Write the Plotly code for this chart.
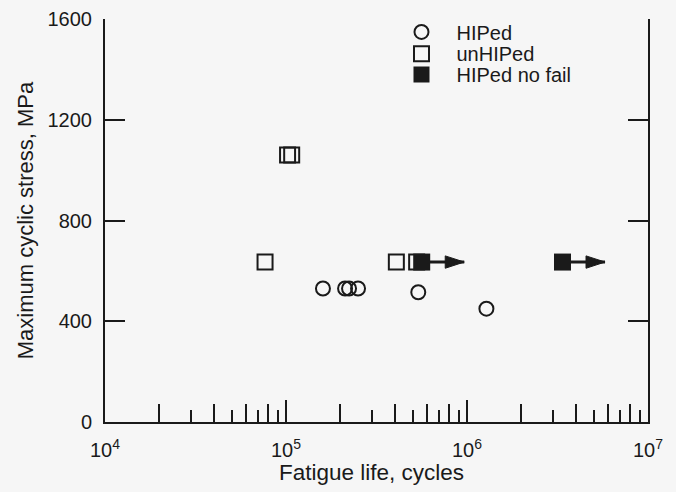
import plotly.graph_objects as go

# ---- data ----
hiped_life = [1.60e5, 2.12e5, 2.23e5, 2.50e5, 5.38e5, 1.28e6]
hiped_stress = [530, 530, 530, 530, 515, 450]

unhiped_life = [7.66e4, 1.02e5, 1.075e5, 4.07e5, 5.27e5]
unhiped_stress = [635, 1060, 1060, 635, 635]

nofail_life = [5.62e5, 3.37e6]
nofail_stress = [635, 635]

x_decades = [1e4, 1e5, 1e6, 1e7]
x_ticktext = ["10<sup>4</sup>", "10<sup>5</sup>", "10<sup>6</sup>", "10<sup>7</sup>"]
x_minor_short = [m * d for d in [1e4, 1e5, 1e6] for m in (3, 5, 7, 9)]
x_minor_long = [m * d for d in [1e4, 1e5, 1e6] for m in (2, 4, 6, 8)]
y_ticks = [0, 400, 800, 1200, 1600]

x_title = "Fatigue life, cycles"
y_title = "Maximum cyclic stress, MPa"

# ---- style ----
INK = "#1a1a1a"
BG = "#f6f6f6"
FONT = "Liberation Sans, Arial, Helvetica, sans-serif"
ARROW_DEC = 0.235  # arrow tip offset in decades (runout indicator)

fig = go.Figure()

fig.add_trace(go.Scatter(
    x=hiped_life, y=hiped_stress, mode="markers", name="HIPed", legend="legend",
    marker=dict(symbol="circle-open", size=14, color=INK, line=dict(width=2, color=INK)),
))
fig.add_trace(go.Scatter(
    x=unhiped_life, y=unhiped_stress, mode="markers", name="unHIPed", legend="legend2",
    marker=dict(symbol="square-open", size=15, color=INK, line=dict(width=2, color=INK)),
))

# runout arrows: shaft lines + arrow heads
shaft_x, shaft_y, tip_x, tip_y = [], [], [], []
for xv, yv in zip(nofail_life, nofail_stress):
    tip = xv * 10 ** ARROW_DEC
    shaft_x += [xv, tip, None]
    shaft_y += [yv, yv, None]
    tip_x.append(tip)
    tip_y.append(yv)
fig.add_trace(go.Scatter(
    x=shaft_x, y=shaft_y, mode="lines", showlegend=False, hoverinfo="skip",
    line=dict(color=INK, width=3),
))
fig.add_trace(go.Scatter(
    x=tip_x, y=tip_y, mode="markers", showlegend=False, hoverinfo="skip",
    marker=dict(symbol="arrow", size=20, color=INK, angle=90, opacity=1,
                line=dict(width=1, color=INK)),
))

fig.add_trace(go.Scatter(
    x=nofail_life, y=nofail_stress, mode="markers", name="HIPed no fail", legend="legend3",
    marker=dict(symbol="square", size=17, color=INK, line=dict(width=0)),
))

# empty trace to carry the overlay axis with long minor ticks
fig.add_trace(go.Scatter(x=[], y=[], xaxis="x2", showlegend=False, hoverinfo="skip"))

leg_common = dict(x=0.5184, xanchor="left", yanchor="middle",
                  bgcolor="rgba(0,0,0,0)", font=dict(size=20, color=INK), itemwidth=60)

fig.update_layout(
    width=676, height=492,
    margin=dict(l=105, r=28, t=15, b=70),
    paper_bgcolor=BG, plot_bgcolor=BG,
    font=dict(family=FONT, color=INK, size=20),
    showlegend=True,
    legend=dict(y=0.968, **leg_common),
    legend2=dict(y=0.914, **leg_common),
    legend3=dict(y=0.862, **leg_common),
    xaxis=dict(
        type="log", range=[4, 7], automargin=False,
        tickmode="array", tickvals=x_decades, ticktext=x_ticktext,
        ticks="inside", ticklen=22, tickwidth=2, tickcolor=INK,
        minor=dict(tickmode="array", tickvals=x_minor_short, ticks="inside",
                   ticklen=12, tickwidth=2, tickcolor=INK, showgrid=False),
        showline=True, linecolor=INK, linewidth=2, mirror=False,
        showgrid=False, zeroline=False,
        tickfont=dict(size=20, color=INK), ticklabelstandoff=9,
    ),
    xaxis2=dict(
        type="log", range=[4, 7], overlaying="x", anchor="y", side="bottom", automargin=False,
        tickmode="array", tickvals=x_minor_long, ticks="inside",
        ticklen=18, tickwidth=2, tickcolor=INK,
        showticklabels=False, showline=False, showgrid=False, zeroline=False,
    ),
    yaxis=dict(
        range=[0, 1600], tickmode="array", tickvals=y_ticks, automargin=False,
        ticks="inside", ticklen=20, tickwidth=2, tickcolor=INK,
        showline=True, linecolor=INK, linewidth=2, mirror="ticks",
        showgrid=False, zeroline=False,
        tickfont=dict(size=20, color=INK), ticklabelstandoff=7,
        title=dict(text=y_title, font=dict(size=22, color=INK), standoff=8),
    ),
    annotations=[dict(
        text=x_title, xref="paper", yref="paper", x=0.49, y=-0.126,
        xanchor="center", yanchor="middle", showarrow=False,
        font=dict(size=22.5, color=INK, family=FONT),
    )],
)

fig.write_html(
    "out.html",
    config={"displayModeBar": False},
    post_script="document.body.style.margin='0';document.body.style.background='" + BG + "';",
)
